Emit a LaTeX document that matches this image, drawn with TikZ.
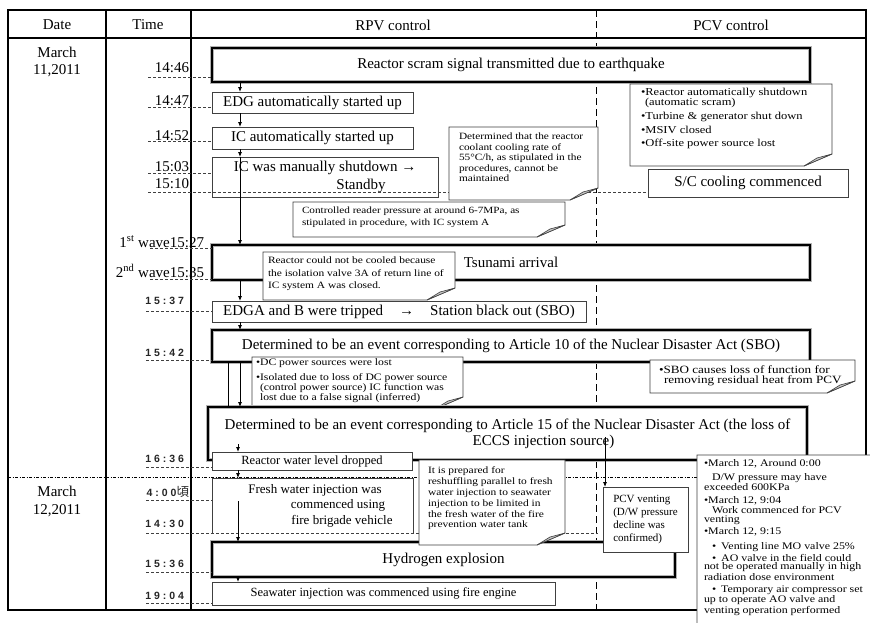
\documentclass[tikz,border=0pt]{standalone}
\usepackage{fontspec}
\setmainfont{Liberation Serif}
\newfontfamily\cfont[FakeStretch=1.18]{Liberation Serif}
\newfontfamily\tsans[LetterSpace=28]{Liberation Sans}
\newfontfamily\cjk{Noto Sans CJK JP}
\usetikzlibrary{arrows.meta}
\newcommand\myfs[2]{\fontsize{#1}{#2}\selectfont}
\newcommand\bx[7]{\node[#1, minimum width={(#5-#3)*1pt}, minimum height={(#6-#4)*1pt}] (#2) at (#3,#4) {#7};}
\newcommand\callout[9]{%
  \filldraw[cshape] (#2,#3) -- (#4,#3) -- (#4,#5-12) -- (#4-28,#5) -- (#2,#5) -- cycle;
  \filldraw[flap] (#4,#5-12) -- (#4-15,#5-8) -- (#4-28,#5) -- cycle;
  \node[ctext, font=#8] (#1) at (#6,#7) {#9};}
\begin{document}
\begin{tikzpicture}[x=1pt,y=-1pt,
  every node/.style={inner sep=0pt, outer sep=0pt},
  tbox/.style={draw=black!75, line width=1pt, fill=white, anchor=north west, align=center, font=\myfs{15}{17}},
  kbox/.style={draw=gray!60, double=black, double distance=2.8pt, line width=0.7pt, fill=white, anchor=north west, align=center, font=\myfs{15}{17}},
  ctext/.style={anchor=north west, align=left},
  cshape/.style={draw=black!75, line width=0.8pt, fill=white},
  flap/.style={draw=black!75, line width=0.6pt, fill=gray!45},
  arr/.style={-{Latex[length=5pt,width=4pt]}, line width=0.8pt},
  dline/.style={dash pattern=on 3pt off 2pt, line width=0.8pt, black!75},
  tlab/.style={anchor=base east, font=\myfs{15}{17}},
  slab/.style={anchor=base east, text=black!85, font=\tsans\bfseries\myfs{10.5}{12}},
  hdr/.style={font=\myfs{15}{17}, align=center},
]
\useasboundingbox (0,0) rectangle (870,622);
\fill[white] (0,0) rectangle (870,622);

% table frame
\draw[line width=1.6pt] (8,10) rectangle (866,610);
\draw[line width=1.5pt] (8,38) -- (866,38);
\draw[line width=1.2pt] (106,10) -- (106,610);
\draw[line width=1.2pt] (191,10) -- (191,610);
\draw[line width=0.9pt, dash pattern=on 7pt off 4pt] (596,10) -- (596,610);
\draw[line width=0.8pt, dash pattern=on 3pt off 1.5pt on 1pt off 1.5pt] (8,477) -- (866,477);

% headers
\node[hdr] (hdate) at (57,25) {Date};
\node[hdr] (htime) at (148,25) {Time};
\node[hdr] (hrpv) at (393,25) {RPV control};
\node[hdr] (hpcv) at (731,25) {PCV control};
\node[hdr] (d11) at (57,62) {March\\11,2011};
\node[hdr, font=\myfs{15}{18}] (d12) at (57,501) {March\\12,2011};

% time labels
\node[tlab] (t1446) at (189,72) {14:46};
\node[tlab] (t1447) at (189,105) {14:47};
\node[tlab] (t1452) at (189,140) {14:52};
\node[tlab] (t1503) at (189,171) {15:03};
\node[tlab] (t1510) at (189,188) {15:10};
\node[tlab] (t1527) at (204,247) {1\textsuperscript{st} wave15:27};
\node[tlab] (t1535) at (204,277) {2\textsuperscript{nd} wave15:35};
\node[slab] (t1537) at (184,304) {15:37};
\node[slab] (t1542) at (184,356) {15:42};
\node[slab] (t1636) at (184,462) {16:36};
\node[slab] (t0400) at (189,496) {4:00{\cjk\mdseries\myfs{12.5}{12}頃}};
\node[slab] (t1430) at (184,527) {14:30};
\node[slab] (t1536) at (184,567) {15:36};
\node[slab] (t1904) at (184,599) {19:04};

\coordinate (c1446) at (148,77);
\coordinate (c1447) at (148,107);
\coordinate (c1452) at (148,141);
\coordinate (c1503) at (148,173);
\coordinate (c1510) at (148,192);
\coordinate (c1527) at (150,248);
\coordinate (c1535) at (150,279);
\coordinate (c1537) at (146,311);
\coordinate (c1542) at (146,360);
\coordinate (c1636) at (146,467);
\coordinate (c0400) at (146,500);
\coordinate (c1430) at (146,533);
\coordinate (c1536) at (146,572);
\coordinate (c1904) at (146,603);
\coordinate (e1430) at (598,533);

% boxes
\bx{kbox}{scram}{212}{48}{810}{82}{Reactor scram signal transmitted due to earthquake}
\bx{tbox}{edg}{212}{92}{413}{113}{EDG automatically started up}
\bx{tbox}{icauto}{212}{127}{413}{149}{IC automatically started up}
\bx{tbox, font=\myfs{15}{18}}{icman}{212}{157}{438}{197}{IC was manually shutdown →\\\hspace*{72pt}Standby}

\draw[dline] (c1446) -- (c1446 -| scram.west);
\draw[dline] (c1447) -- (c1447 -| edg.west);
\draw[dline] (c1452) -- (c1452 -| icauto.west);
\draw[dline] (c1503) -- (c1503 -| icman.west);
\node[tbox, draw=none, fill=none, minimum width=200pt, minimum height=22pt] (sc) at (648,169) {};
\draw[dline] (c1510) -- (c1510 -| sc.west);

\callout{coolcall}{449}{127}{598}{200}{459}{133}{\cfont\myfs{9.6}{10.5}}{Determined that the reactor\\coolant cooling rate of\\55°C/h, as stipulated in the\\procedures, cannot be\\maintained}
\callout{prescall}{293}{202}{565}{237}{302}{207}{\cfont\myfs{9.5}{12}}{Controlled reader pressure at around 6-7MPa, as\\stipulated in procedure, with IC system A}
\callout{bulcall}{630}{84}{832}{166}{641}{88}{\cfont\myfs{10.6}{10}}{•Reactor automatically shutdown\\\hspace*{4pt}(automatic scram)\\[4pt]•Turbine \& generator shut down\\[4pt]•MSIV closed\\[3pt]•Off-site power source lost}
\bx{tbox}{scbox}{648}{169}{848}{197}{S/C cooling commenced}

\bx{kbox}{tsunami}{212}{245}{810}{280}{Tsunami arrival}
\draw[dline] (c1527) -- (c1527 -| tsunami.west);
\draw[dline] (c1535) -- (c1535 -| tsunami.west);
\callout{notcool}{263}{252}{455}{300}{268}{257}{\cfont\myfs{9.7}{12.5}}{Reactor could not be cooled because\\the isolation valve 3A of return line of\\IC system A was closed.}
\bx{tbox}{edga}{212}{301}{586}{322}{EDGA and B were tripped\hspace{16pt}→\hspace{16pt}Station black out (SBO)}
\draw[dline] (c1537) -- (c1537 -| edga.west);
\bx{kbox}{art10}{212}{330}{810}{362}{Determined to be an event corresponding to Article 10 of the Nuclear Disaster Act (SBO)}
\draw[dline] (c1542) -- (c1542 -| art10.west);
\callout{sbocall}{650}{360}{855}{393}{659}{366}{\cfont\myfs{11.1}{10}}{•SBO causes loss of function for\\\hspace*{5pt}removing residual heat from PCV}
\callout{dccall}{252}{357}{463}{409}{256}{359}{\cfont\myfs{9.9}{10}}{•DC power sources were lost\\[5pt]•Isolated due to loss of DC power source\\\hspace*{4pt}(control power source) IC function was\\\hspace*{4pt}lost due to a false signal (inferred)}
\bx{kbox, font=\myfs{15}{16}}{art15}{208}{407}{807}{460}{Determined to be an event corresponding to Article 15 of the Nuclear Disaster Act (the loss of\\\hspace*{72pt}ECCS injection source)}
\bx{tbox, font=\myfs{12.5}{14}}{water}{212}{452}{412}{470}{Reactor water level dropped}
\draw[dline] (c1636) -- (c1636 -| water.west);

\bx{tbox, draw=none, font=\myfs{13}{15.5}}{fresh}{212}{478}{413}{533}{\hspace*{5pt}Fresh water injection was\\\hspace*{51pt}commenced using\\\hspace*{59pt}fire brigade vehicle}
\draw[black!75, line width=1pt] (fresh.south west) -- (fresh.north west) -- (fresh.north east) -- (fresh.south east);
\draw[dline] (c0400) -- (c0400 -| fresh.west);
\draw[dline] (c1430) -- (e1430);

\bx{kbox}{hydro}{212}{542}{675}{577}{Hydrogen explosion}
\draw[dline] (c1536) -- (c1536 -| hydro.west);
\bx{tbox, font=\myfs{12.5}{14}}{sea}{212}{582}{555}{605}{Seawater injection was commenced using fire engine}
\draw[dline] (c1904) -- (c1904 -| sea.west);

\callout{prepcall}{419}{460}{565}{545}{428}{467}{\cfont\myfs{9.7}{10.8}}{It is prepared for\\reshuffling parallel to fresh\\water injection to seawater\\injection to be limited in\\the fresh water of the fire\\prevention water tank}
\bx{tbox, align=left, font=\myfs{11}{13}}{pcv}{603}{487}{688}{552}{PCV venting\\(D/W pressure\\decline was\\confirmed)}
\callout{marcall}{697}{455}{878}{640}{704}{459}{\cfont\myfs{10.1}{8.5}}{•March 12, Around 0:00\\[5pt]\hspace*{8pt}D/W pressure may have\\exceeded 600KPa\\[4pt]•March 12, 9:04\\[1pt]\hspace*{8pt}Work commenced for PCV\\venting\\[2pt]•March 12, 9:15\\[5pt]\hspace*{8pt}•\hspace{5pt}Venting line MO valve 25\%\\[2pt]\hspace*{8pt}•\hspace{5pt}AO valve in the field could\\not be operated manually in high\\radiation dose environment\\[4pt]\hspace*{8pt}•\hspace{5pt}Temporary air compressor set\\up to operate AO valve and\\venting operation performed}

% connectors
\coordinate (src15) at (605,437);
\draw[arr] ([xshift=28pt]scram.south west) -- ([xshift=28pt]edg.north west);
\draw[arr] ([xshift=28pt]edg.south west) -- ([xshift=28pt]icauto.north west);
\draw[arr] ([xshift=28pt]icauto.south west) -- ([xshift=28pt]icman.north west);
\draw[arr] ([xshift=28pt]icman.north west) -- ([xshift=28pt]tsunami.north west);
\draw[arr] ([xshift=28pt]tsunami.south west) -- ([xshift=28pt]edga.north west);
\draw[arr] ([xshift=28pt]edga.south west) -- ([xshift=28pt]art10.north west);
\draw[arr] ([xshift=28pt]art10.south west) -- ([xshift=32pt]art15.north west);
\draw[line width=0.8pt] ([xshift=16pt]art10.south west) -- ([xshift=20pt]art15.north west);
\draw[arr] ([xshift=30pt,yshift=16pt]art15.south west) -- ([xshift=26pt]water.north west);
\draw[arr] ([xshift=26pt]water.south west) -- ([xshift=26pt]fresh.north west);
\draw[arr] ([xshift=26pt,yshift=-23pt]fresh.north west) -- ([xshift=26pt]hydro.north west);
\draw[arr] ([xshift=26pt]hydro.south west) -- ([xshift=26pt]sea.north west);
\draw[arr] (src15) -- (src15 |- pcv.north);
\end{tikzpicture}
\end{document}
